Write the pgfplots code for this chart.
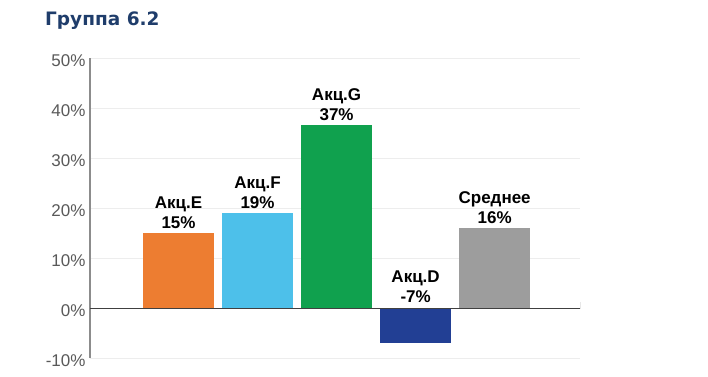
\documentclass[border=0pt]{standalone}
\usepackage{pgfplots}
\pgfplotsset{compat=1.18}
\usepackage{fontspec}
\setmainfont{Liberation Sans}
\newfontfamily\titlefont{DejaVu Sans}
\definecolor{titleblue}{HTML}{1F3D6B}
\definecolor{tickgray}{HTML}{595959}
\definecolor{axisgray}{HTML}{8C8C8C}
\definecolor{zerogray}{HTML}{404040}
\definecolor{cE}{HTML}{ED7D31}
\definecolor{cF}{HTML}{4DC0EA}
\definecolor{cG}{HTML}{10A14E}
\definecolor{cD}{HTML}{223F94}
\definecolor{cA}{HTML}{9D9D9D}
\begin{document}
\begin{tikzpicture}[x=1pt,y=1pt]
\useasboundingbox (0,0) rectangle (708,376);
\node[anchor=base west, inner sep=0, text=titleblue, font=\titlefont\bfseries\fontsize{18.5}{22}\selectfont] at (45,351) {Группа 6.2};
\begin{axis}[
  at={(90pt,18pt)}, anchor=south west, scale only axis,
  width=490pt, height=300pt,
  xmin=-1.12, xmax=5.08, ymin=-10, ymax=50,
  axis x line=none, axis y line*=left,
  y axis line style={color=axisgray, line width=1.2pt},
  ytick={-10,0,10,20,30,40,50},
  ymajorgrids, grid style={color=black!7, line width=0.8pt},
  major tick length=0pt,
  /pgf/number format/assume math mode=true,
  yticklabel={\pgfmathprintnumber{\tick}\%},
  yticklabel style={font=\fontsize{17}{20}\selectfont, text=tickgray, yshift=-3pt, xshift=-1pt},
  ybar, bar width=71pt, bar shift=0pt,
  every node near coord/.append style={align=center, text=black, inner sep=4pt, font=\bfseries\fontsize{17}{20}\selectfont},
]
\addplot[fill=cE, draw=none, nodes near coords={Акц.E\\\pgfmathprintnumber[fixed,precision=0]{\pgfplotspointmeta}\%}] coordinates {(0,15)};
\addplot[fill=cF, draw=none, nodes near coords={Акц.F\\\pgfmathprintnumber[fixed,precision=0]{\pgfplotspointmeta}\%}] coordinates {(1,19)};
\addplot[fill=cG, draw=none, nodes near coords={Акц.G\\\pgfmathprintnumber[fixed,precision=0]{\pgfplotspointmeta}\%}] coordinates {(2,36.6)};
\addplot[fill=cD, draw=none, nodes near coords={Акц.D\\\pgfmathprintnumber[fixed,precision=0]{\pgfplotspointmeta}\%},
  every node near coord/.append style={anchor=south, yshift=36pt}] coordinates {(3,-7)};
\addplot[fill=cA, draw=none, nodes near coords={Среднее\\\pgfmathprintnumber[fixed,precision=0]{\pgfplotspointmeta}\%}] coordinates {(4,16)};
\draw[zerogray, line width=1pt] (axis cs:-1.12,0) -- (axis cs:5.08,0) -- ++(0pt,6pt);
\end{axis}
\end{tikzpicture}
\end{document}
